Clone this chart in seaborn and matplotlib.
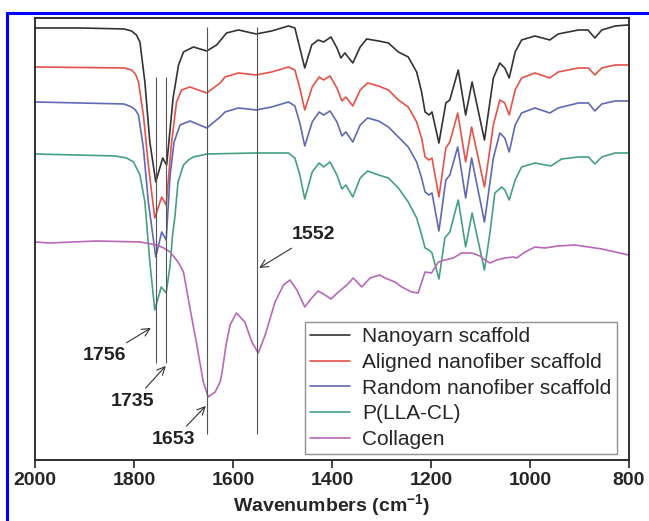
import matplotlib
matplotlib.use("Agg")
import matplotlib.pyplot as plt
import matplotlib.lines as mlines
import seaborn as sns
import pandas as pd

# wavenumber (cm-1) / relative transmittance (offset)
nano_w = [2000, 1909, 1820, 1805, 1795, 1788, 1778, 1768, 1756, 1742, 1734, 1721, 1710, 1700, 1680, 1653, 1633, 1613,
          1589, 1553, 1522, 1488, 1475, 1465, 1455, 1441, 1428, 1417, 1402, 1390, 1382, 1374, 1358, 1343,
          1330, 1306, 1286, 1266, 1246, 1229, 1219, 1212, 1204, 1198, 1184, 1170, 1162, 1145, 1130, 1117,
          1092, 1074, 1061, 1051, 1042, 1030, 1017, 990, 960, 943, 902, 883, 869, 855, 828, 802]
nano_t = [432, 432, 431, 429, 425, 418, 378, 318, 278, 302, 295, 362, 395, 408, 413, 409, 415, 427,
          430, 426, 429, 434, 432, 412, 392, 415, 420, 418, 423, 412, 402, 407, 397, 413,
          421, 419, 417, 408, 403, 388, 368, 348, 345, 348, 317, 357, 360, 390, 345, 378,
          320, 382, 397, 392, 382, 408, 420, 424, 420, 426, 430, 430, 422, 430, 434, 435]

aligned_w = [2000, 1820, 1805, 1797, 1791, 1781, 1771, 1758, 1744, 1735, 1724, 1714, 1704, 1687, 1653, 1626, 1616, 1589,
             1553, 1522, 1488, 1475, 1465, 1455, 1440, 1426, 1417, 1404, 1390, 1380, 1372, 1358, 1343, 1328,
             1306, 1286, 1266, 1246, 1229, 1219, 1212, 1204, 1198, 1184, 1170, 1162, 1146, 1130, 1118, 1092,
             1074, 1061, 1051, 1042, 1030, 1017, 990, 960, 943, 902, 882, 869, 855, 828, 802]
aligned_t = [393, 392, 390, 386, 378, 345, 295, 242, 263, 255, 318, 358, 370, 373, 367, 377, 383, 387,
             385, 388, 393, 390, 372, 350, 373, 383, 380, 384, 372, 359, 363, 354, 370, 377,
             374, 370, 360, 353, 338, 322, 303, 300, 302, 263, 312, 318, 347, 298, 333, 273,
             335, 360, 357, 345, 370, 382, 387, 382, 388, 392, 392, 385, 392, 395, 395]

random_w = [2000, 1820, 1805, 1797, 1791, 1781, 1771, 1756, 1744, 1735, 1727, 1719, 1707, 1687, 1653, 1626, 1616, 1589,
            1553, 1522, 1488, 1475, 1465, 1455, 1440, 1426, 1417, 1404, 1390, 1380, 1372, 1358, 1343, 1328,
            1306, 1286, 1266, 1246, 1229, 1219, 1212, 1204, 1198, 1184, 1170, 1162, 1146, 1130, 1118, 1092,
            1074, 1061, 1051, 1042, 1030, 1017, 990, 960, 943, 902, 882, 869, 855, 828, 802]
random_t = [358, 356, 353, 350, 345, 312, 258, 203, 228, 220, 285, 318, 335, 339, 332, 343, 348, 352,
            350, 353, 358, 354, 337, 314, 338, 348, 345, 349, 338, 324, 328, 318, 335, 342,
            339, 333, 323, 313, 298, 282, 268, 265, 267, 229, 280, 285, 313, 262, 302, 238,
            302, 327, 322, 308, 335, 347, 352, 347, 352, 357, 357, 349, 356, 359, 359]

plla_w = [2000, 1838, 1815, 1801, 1788, 1778, 1768, 1758, 1745, 1735, 1727, 1722, 1717, 1711, 1700, 1690, 1680, 1652,
          1553, 1488, 1475, 1465, 1455, 1440, 1426, 1417, 1404, 1390, 1380, 1372, 1358, 1343, 1328, 1306,
          1286, 1266, 1246, 1229, 1219, 1212, 1204, 1198, 1184, 1172, 1162, 1145, 1130, 1117, 1092, 1081,
          1071, 1057, 1051, 1042, 1030, 1017, 990, 958, 936, 902, 882, 869, 855, 828, 802]
plla_t = [306, 304, 302, 298, 285, 258, 198, 150, 173, 167, 195, 225, 245, 278, 295, 300, 303, 306,
          307, 307, 302, 285, 261, 288, 297, 293, 298, 285, 271, 275, 263, 282, 289, 285,
          282, 272, 258, 242, 225, 212, 210, 207, 181, 222, 228, 260, 213, 247, 190, 227,
          267, 273, 270, 260, 280, 293, 297, 294, 301, 303, 303, 296, 303, 307, 307]

coll_w = [2000, 1970, 1875, 1788, 1754, 1740, 1727, 1711, 1700, 1687, 1673, 1660, 1650, 1636, 1626, 1622, 1614,
          1606, 1593, 1576, 1562, 1549, 1535, 1515, 1498, 1485, 1471, 1455, 1441, 1428, 1414, 1402, 1387,
          1370, 1357, 1340, 1323, 1303, 1293, 1273, 1259, 1239, 1226, 1212, 1199, 1185, 1172, 1155, 1138,
          1118, 1101, 1091, 1081, 1067, 1051, 1034, 1027, 1010, 990, 970, 943, 909, 882, 855, 828, 801]
coll_t = [218, 217, 219, 218, 215, 212, 208, 198, 188, 152, 115, 78, 63, 68, 78, 88, 115,
          135, 147, 138, 118, 107, 125, 158, 175, 180, 170, 153, 162, 169, 165, 161, 168,
          175, 182, 173, 182, 185, 182, 178, 173, 168, 167, 188, 187, 198, 200, 202, 207,
          207, 204, 200, 197, 200, 202, 203, 202, 208, 213, 212, 214, 215, 213, 211, 208, 205]

labels = ["Nanoyarn scaffold", "Aligned nanofiber scaffold", "Random nanofiber scaffold", "P(LLA-CL)", "Collagen"]
colors = ["#333333", "#e8504a", "#6068b8", "#46a080", "#b868b8"]

peak_short = [1756, 1735]
peak_long = [1653, 1552]
peak_labels = ["1756", "1735", "1653", "1552"]

sns.set_style("white")
plt.rcParams["font.family"] = ["Liberation Sans", "DejaVu Sans"]
plt.rcParams["mathtext.fontset"] = "custom"
plt.rcParams["mathtext.bf"] = "Liberation Sans:bold"
plt.rcParams["mathtext.rm"] = "Liberation Sans:bold"

fig = plt.figure(figsize=(6.49, 5.21), dpi=100)
ax = fig.add_axes([0.0539, 0.1171, 0.9153, 0.8484])

series = [(nano_w, nano_t), (aligned_w, aligned_t), (random_w, random_t), (plla_w, plla_t), (coll_w, coll_t)]
for (w, t), lab, col in zip(series, labels, colors):
    df = pd.DataFrame({"w": w, "t": t})
    sns.lineplot(data=df, x="w", y="t", color=col, lw=1.2, ax=ax, legend=False)

# reference lines
ax.vlines(peak_short, 97, 383, color="#555555", lw=0.8)
ax.vlines(peak_long, 26, 433, color="#555555", lw=0.8)

arrow = dict(arrowstyle="->", color="#333333", lw=0.8, shrinkA=2, shrinkB=0)
txt = dict(ha="center", va="center", fontsize=14, fontweight="bold", color="#222222")
ax.annotate(peak_labels[0], xy=(1766, 132), xytext=(1859, 104), arrowprops=arrow, **txt)
ax.annotate(peak_labels[1], xy=(1736, 94), xytext=(1802, 58), arrowprops=arrow, **txt)
ax.annotate(peak_labels[2], xy=(1655, 54), xytext=(1721, 20), arrowprops=arrow, **txt)
ax.annotate(peak_labels[3], xy=(1547, 192), xytext=(1438, 225), arrowprops=arrow, **txt)

ax.set_xlim(2000, 800)
ax.set_ylim(0, 442)
ax.set_xticks([2000, 1800, 1600, 1400, 1200, 1000, 800])
ax.set_yticks([])
ax.tick_params(axis="x", direction="out", length=6, width=1.2, pad=3, bottom=True)
for lbl in ax.get_xticklabels():
    lbl.set_fontsize(14)
    lbl.set_fontweight("bold")
ax.set_xlabel(r"Wavenumbers (cm$^{\mathbf{-1}}$)", fontsize=14, fontweight="bold", labelpad=2)
ax.set_ylabel("")
for sp in ax.spines.values():
    sp.set_color("#222222")
    sp.set_linewidth(1.3)

handles = [mlines.Line2D([], [], color=c, lw=1.2) for c in colors]
leg = ax.legend(handles, labels, loc="upper left", bbox_to_anchor=(0.4545, 0.3122), borderaxespad=0,
                fontsize=15, frameon=True, fancybox=False, labelspacing=0.32, handlelength=1.9,
                handletextpad=0.6, borderpad=0.25)
leg.get_frame().set_edgecolor("#777777")
leg.get_frame().set_linewidth(1.0)

# blue border of the original image
fig.add_artist(mlines.Line2D([7 / 649, 1], [1 - 13 / 521, 1 - 13 / 521], color="#0000ff", lw=2.2))
fig.add_artist(mlines.Line2D([7 / 649, 7 / 649], [0, 1 - 13 / 521], color="#0000ff", lw=2.2))

fig.savefig("out.png", dpi=100)
